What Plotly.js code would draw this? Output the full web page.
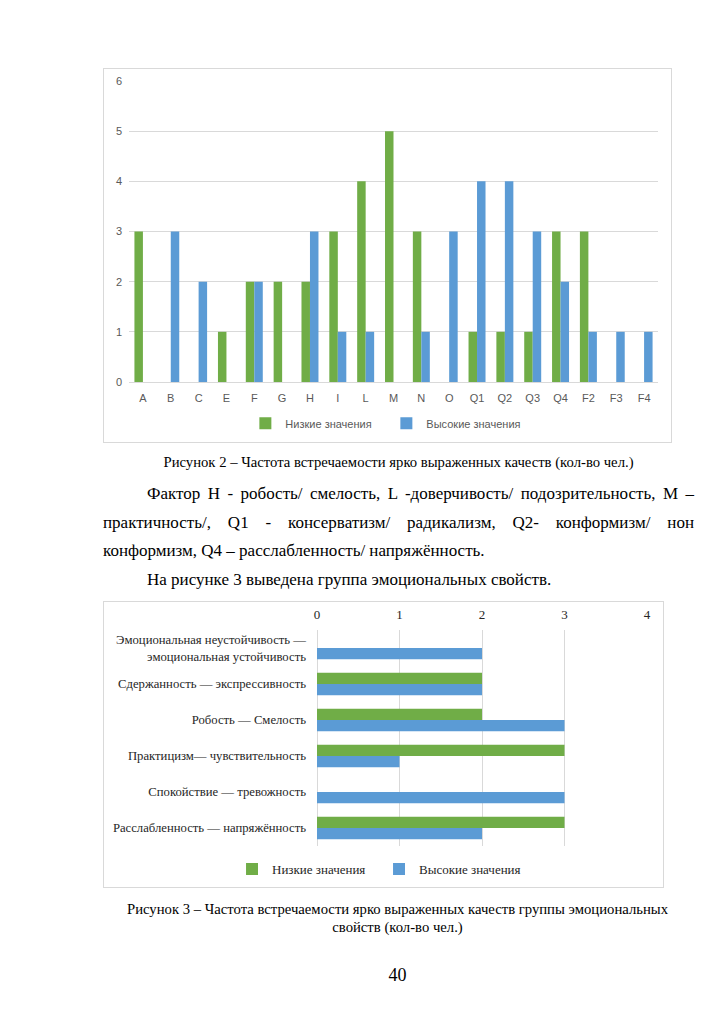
<!DOCTYPE html>
<html><head><meta charset="utf-8">
<script src="https://cdn.plot.ly/plotly-3.0.1.min.js"></script>
<style>
body{margin:0;background:#fff;width:725px;height:1024px;position:relative;overflow:hidden;font-family:"Liberation Serif","DejaVu Serif",serif;color:#000;}
.t{position:absolute;white-space:nowrap;line-height:20px;}
.j{text-align:justify;text-align-last:justify;white-space:normal;}
.frame{position:absolute;border:1px solid #d9d9d9;box-sizing:border-box;}
</style></head><body>
<div id="c1" class="frame" style="left:103px;top:68px;width:569px;height:375px;"></div>
<div class="t" style="left:0;width:797px;text-align:center;top:452px;font-size:14.7px;">Рисунок 2 – Частота встречаемости ярко выраженных качеств (кол-во чел.)</div>
<div class="t j" style="left:147px;width:547px;top:484px;font-size:17px;height:20px;">Фактор Н - робость/ смелость, L -доверчивость/ подозрительность, М –</div>
<div class="t j" style="left:103px;width:591px;top:513px;font-size:17px;height:20px;">практичность/, Q1 - консерватизм/ радикализм, Q2- конформизм/ нон</div>
<div class="t" style="left:103px;top:541px;font-size:17px;">конформизм, Q4 – расслабленность/ напряжённость.</div>
<div class="t" style="left:147px;top:570px;font-size:17px;">На рисунке 3 выведена группа эмоциональных свойств.</div>
<div id="c2" class="frame" style="left:103px;top:601px;width:561px;height:287px;"></div>
<div class="t" style="left:0;width:795px;text-align:center;top:899px;font-size:14.7px;">Рисунок 3 – Частота встречаемости ярко выраженных качеств группы эмоциональных</div>
<div class="t" style="left:0;width:795px;text-align:center;top:917px;font-size:14.7px;">свойств (кол-во чел.)</div>
<div class="t" style="left:0;width:795px;text-align:center;top:965px;font-size:18px;">40</div>
<script>
const factors = ["A","B","C","E","F","G","H","I","L","M","N","O","Q1","Q2","Q3","Q4","F2","F3","F4"];
const lowFactors = [3,0,0,1,2,2,2,3,4,5,3,0,1,1,1,3,3,0,0];
const highFactors = [0,3,2,0,2,0,3,1,1,0,1,3,4,4,3,2,1,1,1];
const seriesNames = ["Низкие значения","Высокие значения"];
const emoCats = ["Эмоциональная неустойчивость —<br>эмоциональная устойчивость","Сдержанность — экспрессивность","Робость — Смелость","Практицизм— чувствительность","Спокойствие — тревожность","Расслабленность — напряжённость"];
const lowEmo = [0,2,2,3,0,3];
const highEmo = [2,2,3,1,3,2];
const GREEN="#70ad47", BLUE="#5b9bd5";

Plotly.newPlot("c1",[
 {type:"bar",x:factors,y:lowFactors,name:seriesNames[0],marker:{color:GREEN}},
 {type:"bar",x:factors,y:highFactors,name:seriesNames[1],marker:{color:BLUE}}
],{
 width:567,height:373,margin:{l:25,r:13,t:12,b:60},
 paper_bgcolor:"#fff",plot_bgcolor:"#fff",
 barmode:"group",bargap:0.39,bargroupgap:0,
 font:{family:"Liberation Sans, Arial, sans-serif",size:11,color:"#595959"},
 xaxis:{showgrid:false,showline:true,linecolor:"#d9d9d9",ticks:"",ticklabelstandoff:6},
 yaxis:{range:[0,6],dtick:1,gridcolor:"#d9d9d9",zeroline:false,showline:false,ticks:"",ticklabelstandoff:6},
 legend:{orientation:"h",xref:"container",x:0.498,xanchor:"center",yref:"container",y:0.05,yanchor:"middle",itemwidth:30,entrywidth:96,font:{size:11}},
 showlegend:true
},{staticPlot:true});

Plotly.newPlot("c2",[
 {type:"bar",orientation:"h",y:emoCats,x:lowEmo,name:seriesNames[0],marker:{color:GREEN}},
 {type:"bar",orientation:"h",y:emoCats,x:highEmo,name:seriesNames[1],marker:{color:BLUE}}
],{
 width:559,height:285,margin:{l:213,r:16,t:28,b:41},
 paper_bgcolor:"#fff",plot_bgcolor:"#fff",
 barmode:"group",bargap:0.38,bargroupgap:0,
 font:{family:"Liberation Serif, Times New Roman, serif",size:12.7,color:"#262626"},
 xaxis:{side:"top",range:[0,4],dtick:1,gridcolor:"#d9d9d9",zeroline:true,zerolinecolor:"#d9d9d9",showline:false,ticks:"",ticklabelstandoff:7,tickfont:{size:13}},
 yaxis:{autorange:"reversed",ticks:"",showline:false,ticklabelstandoff:10},
 legend:{orientation:"h",xref:"container",x:0.492,xanchor:"center",yref:"container",y:0.063,yanchor:"middle",itemwidth:30,entrywidth:102,font:{size:13}},
 showlegend:true
},{staticPlot:true});
</script>
</body></html>
